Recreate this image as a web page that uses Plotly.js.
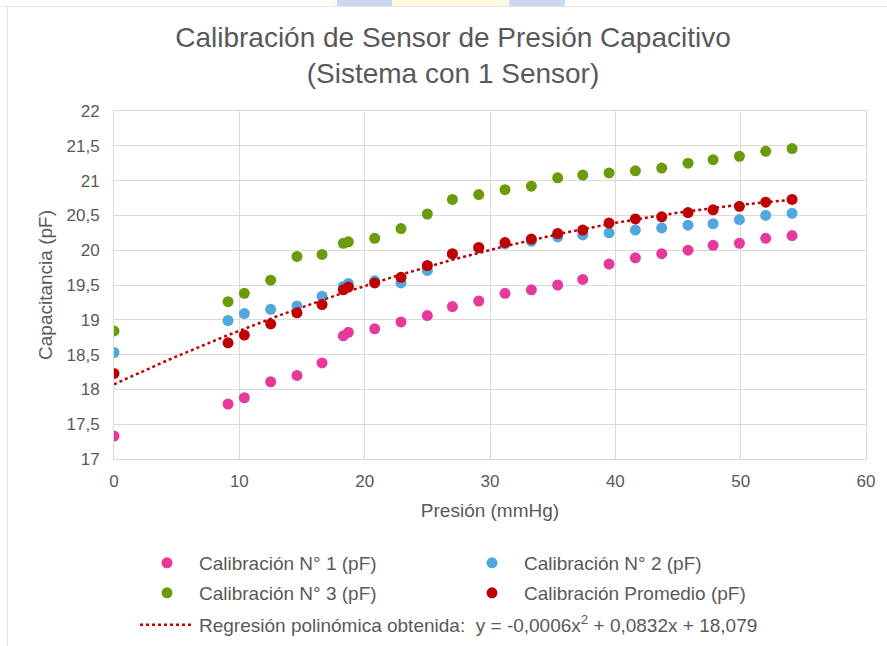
<!DOCTYPE html>
<html>
<head>
<meta charset="utf-8">
<script src="https://cdn.plot.ly/plotly-3.0.1.min.js"></script>
<style>
  html, body { margin: 0; padding: 0; background: #ffffff; }
  #chart { width: 887px; height: 646px; position: relative; }
  .deco { position: absolute; pointer-events: none; }
</style>
</head>
<body>
<div id="chart"></div>
<div class="deco" style="left:0;top:6px;width:887px;height:1px;background:#e3e3e3;"></div>
<div class="deco" style="left:7px;top:6px;width:1px;height:640px;background:#e3e3e3;"></div>
<div class="deco" style="left:332px;top:0;width:5px;height:6px;background:#fdfbe0;"></div>
<div class="deco" style="left:337px;top:0;width:55px;height:6px;background:#c8daec;"></div>
<div class="deco" style="left:392px;top:0;width:117px;height:6px;background:#fdfbe0;"></div>
<div class="deco" style="left:509px;top:0;width:56px;height:6px;background:#c8daec;"></div>
<script>
// Pressure values (mmHg)
var presion = [0, 9.1, 10.4, 12.5, 14.6, 16.6, 18.3, 18.7, 20.8, 22.9, 25.0, 27.0, 29.1,
               31.2, 33.3, 35.4, 37.4, 39.5, 41.6, 43.7, 45.8, 47.8, 49.9, 52.0, 54.1];
// Capacitance series (pF)
var calib1 = [17.33, 17.79, 17.88, 18.11, 18.20, 18.38, 18.77, 18.82, 18.87, 18.97, 19.06, 19.19, 19.27,
              19.38, 19.43, 19.50, 19.58, 19.80, 19.89, 19.95, 20.00, 20.07, 20.10, 20.17, 20.21];
var calib2 = [18.53, 18.99, 19.09, 19.15, 19.20, 19.34, 19.48, 19.52, 19.56, 19.53, 19.71, 19.94, 20.03,
              20.09, 20.13, 20.19, 20.22, 20.25, 20.29, 20.32, 20.36, 20.38, 20.44, 20.50, 20.53];
var calib3 = [18.84, 19.26, 19.38, 19.57, 19.91, 19.94, 20.10, 20.12, 20.17, 20.31, 20.52, 20.73, 20.80,
              20.87, 20.92, 21.04, 21.08, 21.11, 21.14, 21.18, 21.25, 21.30, 21.35, 21.42, 21.46];
var calibProm = [18.23, 18.67, 18.78, 18.94, 19.10, 19.22, 19.43, 19.47, 19.53, 19.61, 19.78, 19.95, 20.04,
                 20.11, 20.16, 20.24, 20.29, 20.39, 20.45, 20.48, 20.54, 20.58, 20.63, 20.69, 20.73];

var seriesNames = ['Calibración N° 1 (pF)', 'Calibración N° 2 (pF)', 'Calibración N° 3 (pF)', 'Calibración Promedio (pF)'];
var trendName = 'Regresión polinómica obtenida:  y = -0,0006x<sup>2</sup> + 0,0832x + 18,079';
var titleText = 'Calibración de Sensor de Presión Capacitivo<br>(Sistema con 1 Sensor)';

// Quadratic least-squares regression of the average calibration (the trendline)
function polyFit2(xs, ys) {
  var S = [0, 0, 0, 0, 0], T = [0, 0, 0];
  for (var i = 0; i < xs.length; i++) {
    var p = 1;
    for (var j = 0; j < 5; j++) { S[j] += p; if (j < 3) T[j] += p * ys[i]; p *= xs[i]; }
  }
  var A = [[S[0], S[1], S[2], T[0]], [S[1], S[2], S[3], T[1]], [S[2], S[3], S[4], T[2]]];
  for (var c = 0; c < 3; c++) {
    for (var r = c + 1; r < 3; r++) {
      var m = A[r][c] / A[c][c];
      for (var q = c; q < 4; q++) A[r][q] -= m * A[c][q];
    }
  }
  var sol = [0, 0, 0];
  for (var r2 = 2; r2 >= 0; r2--) {
    var s = A[r2][3];
    for (var q2 = r2 + 1; q2 < 3; q2++) s -= A[r2][q2] * sol[q2];
    sol[r2] = s / A[r2][r2];
  }
  return sol; // [c0, c1, c2]
}
var coef = polyFit2(presion, calibProm);
var trendX = [], trendY = [];
var xMax = presion[presion.length - 1];
for (var i = 0; i <= 200; i++) {
  var xv = xMax * i / 200;
  trendX.push(xv);
  trendY.push(coef[0] + coef[1] * xv + coef[2] * xv * xv);
}

var colors = ['#E6399B', '#4FA7DD', '#6A9B0B', '#C00000'];
var ys = [calib1, calib2, calib3, calibProm];
var legendIds = ['legend', 'legend', 'legend2', 'legend2'];
var traces = [];
for (var k = 0; k < 4; k++) {
  traces.push({
    type: 'scatter', mode: 'markers', x: presion, y: ys[k], name: seriesNames[k],
    marker: { color: colors[k], size: 11, line: { width: 0 } },
    legend: legendIds[k], hoverinfo: 'x+y'
  });
}
traces.push({
  type: 'scatter', mode: 'lines', x: trendX, y: trendY, name: trendName,
  line: { color: '#C00000', width: 2.5, dash: 'dot' }, legend: 'legend3', hoverinfo: 'skip'
});

var fam = 'Liberation Sans, Arial, sans-serif';
function f(sz) { return { family: fam, color: '#595959', size: sz }; }

function leg(extra) {
  var o = {
    orientation: 'h', xanchor: 'left', yanchor: 'top', font: f(19),
    itemwidth: 54, bgcolor: 'rgba(0,0,0,0)', x: (135 - 114) / 752
  };
  for (var key in extra) o[key] = extra[key];
  return o;
}

var layout = {
  width: 887, height: 646,
  margin: { l: 114, r: 21, t: 111, b: 187, autoexpand: false },
  paper_bgcolor: '#ffffff', plot_bgcolor: '#ffffff',
  separators: ',.',
  font: f(16),
  title: { text: titleText, font: f(28), x: 453 / 887, xanchor: 'center', xref: 'container',
           y: 1 - 47 / 646, yref: 'container', yanchor: 'top' },
  xaxis: {
    range: [0, 60], dtick: 10, tick0: 0, showgrid: true, gridcolor: '#d9d9d9', gridwidth: 1,
    zeroline: false, showline: true, linecolor: '#d9d9d9', linewidth: 1, mirror: true,
    ticks: '', tickfont: f(17), ticklabelstandoff: 7,
    title: { text: 'Presión (mmHg)', font: f(19), standoff: 13 }
  },
  yaxis: {
    range: [17, 22], dtick: 0.5, tick0: 17, showgrid: true, gridcolor: '#d9d9d9', gridwidth: 1,
    zeroline: false, showline: true, linecolor: '#d9d9d9', linewidth: 1, mirror: true,
    ticks: '', tickfont: f(17), ticklabelstandoff: 10,
    title: { text: 'Capacitancia (pF)', font: f(19), standoff: 8 }
  },
  showlegend: true,
  legend: leg({ y: (459 - 544) / 348, entrywidthmode: 'pixels', entrywidth: 256 }),
  legend2: leg({ y: (459 - 574) / 348, entrywidthmode: 'pixels', entrywidth: 256 }),
  legend3: leg({ y: (459 - 606) / 348 })
};

Plotly.newPlot('chart', traces, layout, { displayModeBar: false, staticPlot: true });
</script>
</body>
</html>
